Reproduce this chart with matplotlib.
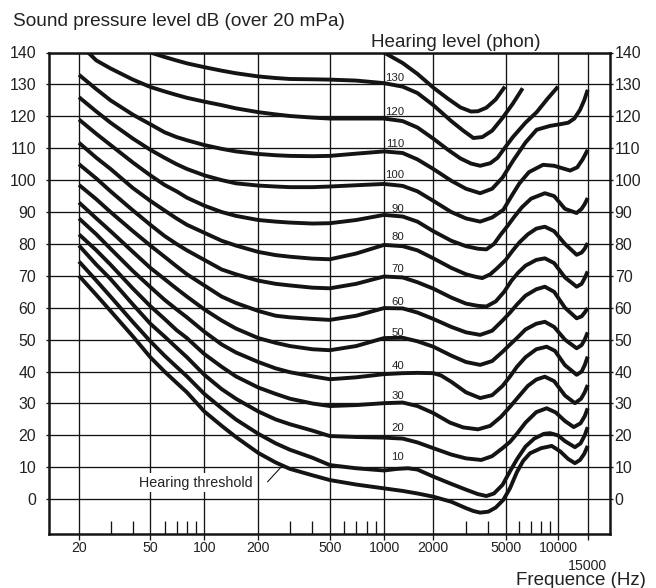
import numpy as np
import matplotlib
matplotlib.use('Agg')
import matplotlib.pyplot as plt
from matplotlib.ticker import FixedLocator, FixedFormatter, NullFormatter
from matplotlib.transforms import blended_transform_factory

plt.rcParams['font.family'] = ['Liberation Sans', 'DejaVu Sans']

# ---------------- data (Hz, dB) ----------------
LOW_F = [20, 25, 30, 40, 50, 60, 70, 80, 100, 125, 150, 200, 250, 300, 400, 500, 700, 1000]

THR_F = LOW_F + [1300, 1600, 2000, 2500, 3000, 3300, 3600, 4000, 4400, 4850, 5300, 5800, 6300, 6900, 8000, 9200, 10300, 11500, 12600, 13500, 14300, 15000]
THR_L = [70, 64, 59, 51, 44.5, 40, 36.5, 33.5, 27.5, 23, 19.5, 14.5, 11.5, 9.5, 7.5, 6.0, 4.6, 3.4,
         2.6, 1.8, 0.8, -0.8, -2.8, -3.7, -4.2, -3.9, -2.6, -0.2, 3.5, 8.5, 12, 14.4, 16, 16.7, 15, 12.6, 11.3, 12.3, 14.2, 16.7]

P10_F = LOW_F + [1200, 1400, 1600, 2000, 2500, 3000, 3500, 3900, 4300, 4800, 5300, 5800, 6500, 7300, 8300, 9000, 10000, 11000, 12600, 13600, 14400, 15000]
P10_L = [74.5, 68.5, 63.5, 55.5, 49.5, 45, 41.5, 38.5, 33, 28.5, 25, 20.5, 17.5, 15.5, 13, 10.7, 9.7, 9.0,
         9.5, 9.7, 9.3, 7.1, 4.8, 3.0, 1.6, 1.0, 1.8, 4.5, 8.8, 12.5, 16.5, 19, 20.5, 20.7, 20, 18.2, 16.3, 17.5, 20, 22.6]

P20_F = LOW_F + [1300, 1600, 2000, 2500, 3000, 3650, 4200, 4800, 5300, 5800, 6500, 7500, 8600, 9700, 11000, 12400, 13600, 14400, 15000]
P20_L = [79.5, 73.5, 69, 61, 55, 51, 47.5, 44.5, 39, 34.5, 31.5, 27.5, 25, 23.5, 21.5, 19.8, 19.5, 19.3,
         19, 17.8, 16, 14, 12.8, 12.3, 13.5, 16, 18, 20.5, 24, 27.3, 28.5, 27.2, 24.5, 22.6, 23.8, 26, 28.5]

P30_F = LOW_F + [1300, 1600, 2000, 2460, 2900, 3500, 4100, 4700, 5300, 5900, 6700, 7500, 8400, 9500, 11000, 12600, 13700, 14400, 15000]
P30_L = [83, 78, 73.5, 66, 60.5, 56.5, 53, 50.5, 45.5, 41.5, 38.5, 35, 33, 31.5, 30, 29.2, 29.5, 30.1,
         30.3, 29.2, 27, 24, 22.5, 21.9, 23, 25.8, 29, 32, 35.5, 37.5, 38.4, 37, 32.5, 30.1, 31.5, 33.5, 35.8]

P40_F = LOW_F + [1300, 1600, 2000, 2200, 2500, 3000, 3600, 4200, 4800, 5300, 5800, 6500, 7500, 8600, 9600, 11000, 12900, 13800, 14400, 15000]
P40_L = [88, 83, 78.5, 71.5, 66.5, 62.5, 59.5, 57, 52.5, 48.5, 46, 43, 41, 39.8, 38.5, 37.6, 38.2, 39.2,
         39.5, 39.6, 39.5, 38.8, 36.8, 33.5, 31.7, 32.6, 35.5, 38.5, 41.5, 44.5, 47, 47.8, 46.5, 42, 39, 40, 42, 44.7]

MID_F = [1300, 1600, 2000, 2500, 3000, 3600, 4200, 4800, 5300, 5800, 6500, 7500, 8400, 9500, 11000, 12900, 13800, 14400, 15000]

P50_F = LOW_F + MID_F
P50_L = [93, 88, 84, 77.5, 72.5, 69, 66, 63.5, 59.5, 56, 53.5, 50.5, 49, 48, 47, 46.7, 48, 50.5,
         50.6, 49.5, 47.8, 45, 43, 42.1, 43.3, 46.2, 48.5, 50.5, 53.2, 55, 55.6, 54, 50, 47.3, 48.3, 50, 52.3]

P60_F = LOW_F + MID_F
P60_L = [98.5, 94, 90, 84, 79.5, 76, 73, 70.5, 67, 63.5, 61.5, 59, 57.5, 57, 56.5, 56.2, 57.5, 59.9,
         59.8, 58.5, 56.5, 54, 52.3, 51.5, 52.8, 56, 58.5, 61, 63.8, 65.8, 66.6, 65, 60, 56.7, 57.3, 58.5, 59.9]

P70_F = LOW_F + [1300, 1600, 2000, 2500, 3000, 3500, 3900, 4400, 4900, 5400, 5900, 6500, 7500, 8400, 9500, 11000, 12900, 13800, 14400, 15000]
P70_L = [105, 100.5, 96.5, 90.5, 86, 82.5, 80, 78, 75, 72, 70.5, 68.5, 67.5, 67, 66.3, 66.1, 67.5, 69.8,
         69.5, 68, 66, 63.2, 61.3, 60.6, 60.4, 62, 65, 68.5, 71, 73.2, 75, 75.5, 74, 69.5, 66.6, 67.5, 69.3, 71.4]

P80_F = LOW_F + [1300, 1600, 2000, 2500, 3000, 3400, 3700, 4100, 4500, 5000, 5500, 6000, 6700, 7500, 8400, 9500, 11000, 12900, 13800, 14400, 15000]
P80_L = [111.7, 107, 103.5, 97.5, 93.5, 90.5, 88, 86, 83.5, 81, 79.5, 77.5, 76.5, 76, 75.4, 75.2, 77, 79.7,
         79.3, 78, 75.5, 72.5, 70.5, 69.7, 69.3, 70.5, 72.5, 75, 78, 80.5, 83, 84.8, 85.4, 84, 80, 76.6, 77.3, 78.5, 80.3]

P90_F = LOW_F + [1300, 1600, 2000, 2500, 3000, 3500, 3900, 4300, 4700, 5100, 5600, 6200, 7000, 8400, 9500, 11000, 12900, 13800, 14400, 15000]
P90_L = [119, 114.5, 111, 105.5, 101.5, 98.5, 96.5, 94.5, 92, 90, 88.8, 87.5, 87, 86.7, 86.4, 86.5, 87.5, 89.1,
         88.6, 87, 84, 81, 79.3, 78.5, 78.3, 80, 83, 85.5, 88.5, 91.5, 94.2, 95.9, 95, 91, 89.7, 91, 92.5, 94.4]

P100_F = LOW_F + [1300, 1600, 2000, 2500, 3000, 3600, 4200, 4850, 5400, 6000, 6800, 8200, 9500, 11800, 13000, 14000, 15000]
P100_L = [126, 121.5, 118, 113, 109.5, 107, 105, 103.5, 101.5, 100, 99, 98.3, 98, 97.8, 97.8, 98, 98.4, 98.8,
          98.2, 96.5, 93.5, 90, 88, 87, 88.3, 90.7, 95, 99, 102.5, 104.8, 104.5, 103, 104, 106.5, 109.5]

P110_F = LOW_F + [1300, 1600, 2000, 2500, 3000, 3600, 4200, 4800, 5500, 6500, 7540, 9000, 10500, 11500, 12500, 13500, 14300, 15000]
P110_L = [133, 128.5, 125, 120.5, 117.5, 115, 113.5, 112.5, 111, 109.8, 109, 108.2, 107.8, 107.6, 107.5, 107.6, 108.3, 109,
          108.5, 106.5, 103.5, 99.8, 97.3, 95.9, 97.3, 100.8, 106, 111.8, 115.8, 117, 117.6, 118, 119.3, 122, 125, 128.3]

P120_F = [22.5, 25, 30, 40, 50, 60, 70, 80, 100, 125, 150, 200, 250, 300, 400, 500, 700, 1000,
          1300, 1600, 2000, 2400, 2800, 3200, 3600, 4100, 4500, 4850, 5500, 6500, 7540, 8700, 10000]
P120_L = [140, 137.5, 135, 131.5, 129.2, 127.8, 126.7, 125.8, 124.6, 123.5, 122.5, 121.3, 120.6, 120.1, 119.6, 119.3, 119.3, 119.3,
          118.5, 116.5, 113, 109.5, 106.8, 105.2, 104.5, 105.3, 107, 109.5, 113.5, 118, 121.3, 125.5, 129.3]

P130_F = [50, 60, 70, 80, 100, 125, 150, 200, 250, 300, 400, 500, 700, 1000,
          1300, 1600, 2000, 2500, 2900, 3300, 3700, 4200, 4800, 5500, 6260]
P130_L = [140, 138.6, 137.5, 136.6, 135.4, 134.3, 133.5, 132.5, 132, 131.7, 131.6, 131.5, 131.2, 130.4,
          129.3, 127.3, 123.5, 118.5, 115.5, 113.2, 113.5, 115.5, 119.5, 124, 128.8]

P140_F = [1000, 1300, 1600, 2000, 2400, 2800, 3200, 3500, 3900, 4400, 4950]
P140_L = [140, 136.7, 133.3, 129, 125.5, 122.8, 121.5, 121.6, 122.7, 125.3, 129.3]

CURVES_F = [THR_F, P10_F, P20_F, P30_F, P40_F, P50_F, P60_F, P70_F, P80_F, P90_F, P100_F, P110_F, P120_F, P130_F, P140_F]
CURVES_L = [THR_L, P10_L, P20_L, P30_L, P40_L, P50_L, P60_L, P70_L, P80_L, P90_L, P100_L, P110_L, P120_L, P130_L, P140_L]

PHON_LABELS = ['130', '120', '110', '100', '90', '80', '70', '60', '50', '40', '30', '20', '10']
PHON_LABEL_DB = [132.1, 121.4, 111.4, 101.7, 91.0, 82.2, 72.2, 61.8, 52.1, 41.8, 32.4, 22.4, 13.3]
PHON_LABEL_HZ = 1325

X_MAJOR = [20, 50, 100, 200, 500, 1000, 2000, 5000, 10000, 15000]
X_MAJOR_LABELS = ['20', '50', '100', '200', '500', '1000', '2000', '5000', '10000', '']
X_LOW_LABEL_HZ, X_LOW_LABEL = 15000, '15000'
X_MINOR = [30, 40, 60, 70, 80, 90, 300, 400, 600, 700, 800, 900, 3000, 4000, 6000, 7000, 8000, 9000]
Y_TICKS = list(range(0, 141, 10))

THRESH_TEXT_HZ, THRESH_TEXT_DB = 89.3, 5.2
THRESH_LEADER_HZ = [225.6, 264]
THRESH_LEADER_DB = [5.5, 9.7]

# ------------- hand-drawn frequency axis (piecewise log) -------------
SCALE_HZ = np.array([1, 20, 100, 200, 1000, 2000, 3000, 5000, 10000, 15000, 100000], float)
SCALE_POS = np.array([-154.3, 79, 204.3, 258.3, 384, 433.3, 466, 505.7, 558, 587.7, 726.6])
SCALE_LOG = np.log10(SCALE_HZ)

def fwd(f):
    f = np.asarray(f, float)
    return np.interp(np.log10(np.clip(f, 1e-6, None)), SCALE_LOG, SCALE_POS)

def inv(u):
    u = np.asarray(u, float)
    return 10 ** np.interp(u, SCALE_POS, SCALE_LOG)

W, H = 656, 588
fig = plt.figure(figsize=(W / 100, H / 100), dpi=100)
ax_l, ax_r, ax_t, ax_b = 49, 610, 52.5, 534
ax = fig.add_axes([ax_l / W, 1 - ax_b / H, (ax_r - ax_l) / W, (ax_b - ax_t) / H])
ax.set_xscale('function', functions=(fwd, inv))
ax.set_xlim(float(inv(ax_l)), float(inv(ax_r)))
ax.set_ylim(-10.9, 140)

ink = '#141414'
grid_lw = 0.95
for s in ax.spines.values():
    s.set_linewidth(1.8)
    s.set_color(ink)

ax.xaxis.set_major_locator(FixedLocator(X_MAJOR))
ax.xaxis.set_major_formatter(FixedFormatter(X_MAJOR_LABELS))
ax.xaxis.set_minor_locator(FixedLocator(X_MINOR))
ax.xaxis.set_minor_formatter(NullFormatter())
ax.tick_params(axis='x', which='major', direction='out', length=4, width=grid_lw,
               color=ink, labelsize=10.2, pad=1, labelcolor='#222')
ax.tick_params(axis='x', which='minor', direction='in', length=9.5, width=grid_lw, color=ink)

ax.set_yticks(Y_TICKS)
ax.tick_params(axis='y', which='major', direction='out', length=2.2, width=grid_lw,
               color=ink, labelsize=11.4, pad=7, labelcolor='#222')

ax2 = ax.twinx()
ax2.set_ylim(ax.get_ylim())
ax2.set_yticks(Y_TICKS)
ax2.tick_params(axis='y', direction='out', length=2.2, width=grid_lw, color=ink,
                labelsize=11.4, pad=1.2, labelcolor='#222')
for s in ax2.spines.values():
    s.set_visible(False)

ax.grid(True, which='major', color=ink, linewidth=grid_lw)
ax.set_axisbelow(True)

# second-row tick label for 15000
trans = blended_transform_factory(ax.transData, fig.transFigure)
ax.text(X_LOW_LABEL_HZ, 1 - 570 / H, X_LOW_LABEL, transform=trans, ha='center', va='baseline',
        fontsize=10.2, color='#222', clip_on=False)

for fx, ly in zip(CURVES_F, CURVES_L):
    ax.plot(fx, ly, color=ink, lw=2.8, solid_capstyle='butt', solid_joinstyle='round', zorder=3)

for t, yv in zip(PHON_LABELS, PHON_LABEL_DB):
    ax.text(PHON_LABEL_HZ, yv, t, ha='right', va='center', fontsize=8.2, color='#222', zorder=4)

ax.plot(THRESH_LEADER_HZ, THRESH_LEADER_DB, color=ink, lw=0.8, zorder=4)
ax.text(THRESH_TEXT_HZ, THRESH_TEXT_DB, 'Hearing threshold', ha='center', va='center',
        fontsize=10.3, color='#222', zorder=5,
        bbox=dict(boxstyle='square,pad=0.15', fc='white', ec='none'))

fig.text(12.7 / W, 1 - 26 / H, 'Sound pressure level dB (over 20 mPa)', fontsize=13.7,
         ha='left', va='baseline', color='#222')
fig.text(370.7 / W, 1 - 46.7 / H, 'Hearing level (phon)', fontsize=13.6,
         ha='left', va='baseline', color='#222')
fig.text(646 / W, 1 - 585 / H, 'Frequence (Hz)', fontsize=13.5,
         ha='right', va='baseline', color='#222')

fig.savefig('out.png', dpi=100)
